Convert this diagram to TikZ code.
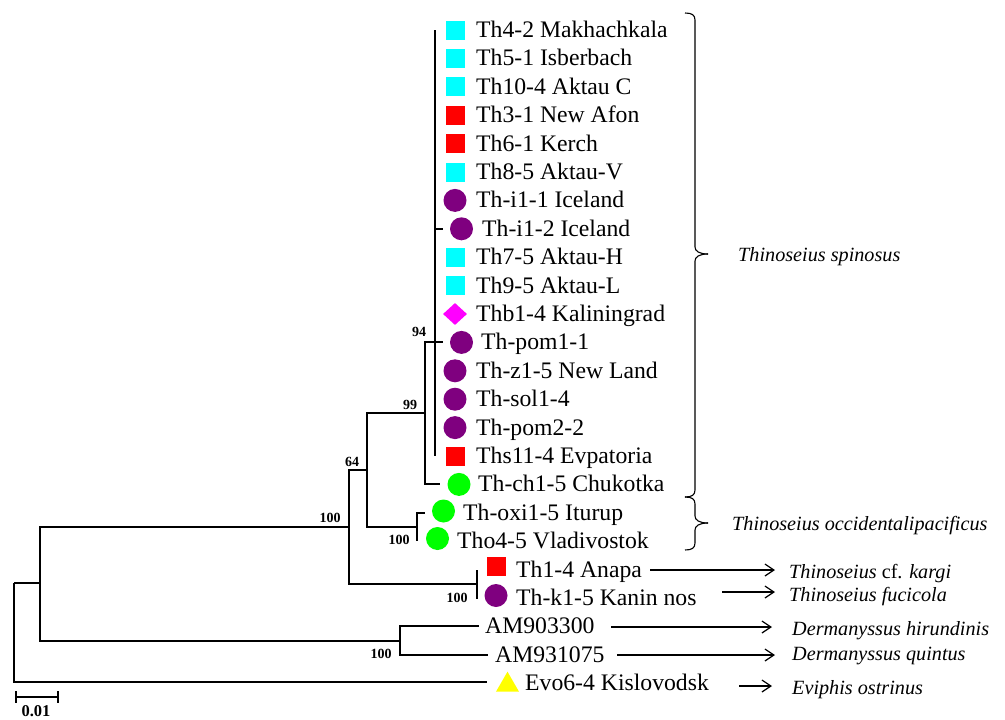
\documentclass[tikz,border=0pt]{standalone}
\usepackage{fontspec}
\setmainfont{Liberation Serif}
\usetikzlibrary{arrows.meta,shapes.geometric}
\definecolor{cyanm}{HTML}{00FFFF}
\definecolor{redm}{HTML}{FF0000}
\definecolor{purplem}{HTML}{7F007F}
\definecolor{magm}{HTML}{FF00FF}
\definecolor{greenm}{HTML}{00FF00}
\definecolor{yellowm}{HTML}{FFFF00}
\begin{document}
\begin{tikzpicture}[x=1pt,y=-1pt,
  br/.style={line width=2pt},
  leaf/.style={anchor=base west, inner sep=0pt, font=\fontsize{23.7}{26}\selectfont},
  sp/.style={anchor=base west, inner sep=0pt, font=\fontsize{20.2}{22}\selectfont\itshape},
  bs/.style={anchor=base, inner sep=0pt, font=\fontsize{14}{16}\selectfont\bfseries},
  sq/.style={rectangle, minimum size=19pt, inner sep=0pt, draw=none},
  dot/.style={circle, minimum size=23pt, inner sep=0pt, draw=none, fill=purplem},
  gdot/.style={circle, minimum size=23pt, inner sep=0pt, draw=none, fill=greenm},
  arr/.style={line width=1.2pt, -{Straight Barb[length=9pt,width=12pt]}},
  brc/.style={line width=1.1pt}]
\useasboundingbox (0,0) rectangle (1005,720);

% ---------- markers and leaf labels ----------
\node[sq,fill=cyanm] (m1) at (455,30) {};      \node[leaf] (t1) at (476,37.5) {Th4-2 Makhachkala};
\node[sq,fill=cyanm] (m2) at (455,58.4) {};    \node[leaf] (t2) at (476,65.9) {Th5-1 Isberbach};
\node[sq,fill=cyanm] (m3) at (455,86.8) {};    \node[leaf] (t3) at (476,94.3) {Th10-4 Aktau C};
\node[sq,fill=redm] (m4) at (455,115.2) {};    \node[leaf] (t4) at (476,122.7) {Th3-1 New Afon};
\node[sq,fill=redm] (m5) at (455,143.6) {};    \node[leaf] (t5) at (476,151.1) {Th6-1 Kerch};
\node[sq,fill=cyanm] (m6) at (455,172) {};     \node[leaf] (t6) at (476,179.5) {Th8-5 Aktau-V};
\node[dot] (m7) at (455,200.4) {};             \node[leaf] (t7) at (476,207.9) {Th-i1-1 Iceland};
\node[dot] (m8) at (461.5,228.8) {};           \node[leaf] (t8) at (482,236.3) {Th-i1-2 Iceland};
\node[sq,fill=cyanm] (m9) at (455,257.2) {};   \node[leaf] (t9) at (476,264.7) {Th7-5 Aktau-H};
\node[sq,fill=cyanm] (m10) at (455,285.6) {};  \node[leaf] (t10) at (476,293.1) {Th9-5 Aktau-L};
\node[diamond, fill=magm, draw=none, inner sep=0pt, minimum width=24pt, minimum height=22pt] (m11) at (455,314) {};
\node[leaf] (t11) at (476,321.5) {Thb1-4 Kaliningrad};
\node[dot] (m12) at (461.5,342.4) {};          \node[leaf] (t12) at (481,349.9) {Th-pom1-1};
\node[dot] (m13) at (455,370.8) {};            \node[leaf] (t13) at (476,378.3) {Th-z1-5 New Land};
\node[dot] (m14) at (455,399.2) {};            \node[leaf] (t14) at (476,406.7) {Th-sol1-4};
\node[dot] (m15) at (455,427.6) {};            \node[leaf] (t15) at (476,435.1) {Th-pom2-2};
\node[sq,fill=redm] (m16) at (455,456) {};     \node[leaf] (t16) at (476,463.5) {Ths11-4 Evpatoria};
\node[gdot] (m17) at (459,484.4) {};           \node[leaf] (t17) at (478,491.9) {Th-ch1-5 Chukotka};
\node[gdot] (m18) at (443.5,511) {};           \node[leaf] (t18) at (463,520.3) {Th-oxi1-5 Iturup};
\node[gdot] (m19) at (437.5,538.5) {};         \node[leaf] (t19) at (457,548.7) {Tho4-5 Vladivostok};
\node[sq,fill=redm] (m20) at (496,566.5) {};   \node[leaf] (t20) at (516,577.1) {Th1-4 Anapa};
\node[dot] (m21) at (496,595.5) {};            \node[leaf] (t21) at (516,605.5) {Th-k1-5 Kanin nos};
\node[leaf] (t22) at (485,633.9) {AM903300};
\node[leaf] (t23) at (495,662.3) {AM931075};
\node[regular polygon, regular polygon sides=3, fill=yellowm, draw=none, inner sep=0pt, minimum size=26.6pt] (m24) at (507.5,685) {};
\node[leaf] (t24) at (525,690.7) {Evo6-4 Kislovodsk};

% ---------- tree coordinates ----------
\coordinate (root) at (14,583);
\coordinate (nA) at (40,583);
\coordinate (n100) at (349,527);
\coordinate (n99) at (367,470);
\coordinate (n94) at (425,413);
\coordinate (nOT) at (417,527);
\coordinate (nAK) at (477,584);
\coordinate (nD) at (400,641);
\coordinate (cEvo) at (487,682);
\coordinate (cPom) at (443,342.4);
\coordinate (cCh) at (440,484.4);
\coordinate (cOx) at (425,512.8);
\coordinate (cTho) at (417,541.2);
\coordinate (cAn) at (477,569.6);
\coordinate (cKa) at (477,599);
\coordinate (cAM1) at (479,626.4);
\coordinate (cAM2) at (488,654.8);
\coordinate (pTop) at (435,30);
\coordinate (pBot) at (435,456);
\coordinate (pI) at (435,228.8);
\coordinate (cI) at (443,228.8);

% ---------- tree branches ----------
\draw[br] (root) |- (nA);
\draw[br] (root) |- (cEvo);
\draw[br] (nA) |- (n100);
\draw[br] (nA) |- (nD);
\draw[br] (n100) |- (n99);
\draw[br] (n100) |- (nAK);
\draw[br] (n99) |- (n94);
\draw[br] (n99) |- (nOT);
\draw[br] (n94) |- (cPom);
\draw[br] (n94) |- (cCh);
\draw[br] (nOT) |- (cOx);
\draw[br] (nOT) -- (cTho);
\draw[br] (nAK) -- (cAn);
\draw[br] (nAK) -- (cKa);
\draw[br] (nD) |- (cAM1);
\draw[br] (nD) |- (cAM2);
\draw[br] (pTop) -- (pBot);
\draw[br] (pI) -- (cI);

% ---------- bootstrap values ----------
\node[bs] (b94) at (419,336) {94};
\node[bs] (b99) at (410,409) {99};
\node[bs] (b64) at (352,466) {64};
\node[bs] (b100a) at (330,522) {100};
\node[bs] (b100b) at (399,544) {100};
\node[bs] (b100c) at (457,602) {100};
\node[bs] (b100d) at (381,658) {100};

% ---------- scale bar ----------
\coordinate (sb1) at (16,697);
\coordinate (sb2) at (58,697);
\draw[br] (sb1) -- (sb2);
\draw[br] (16,691) -- (16,703);
\draw[br] (58,691) -- (58,703);
\node[anchor=base, inner sep=0pt, font=\fontsize{16.5}{18}\selectfont\bfseries] (sbl) at (36,716) {0.01};

% ---------- braces ----------
\draw[brc] (685,13) .. controls (692,13) and (695,15) .. (695,20) -- (695,247)
  .. controls (695,251) and (699,254) .. (708,254);
\draw[brc] (708,254) .. controls (699,254) and (695,257) .. (695,261) -- (695,490)
  .. controls (695,495) and (692,497) .. (685,497);
\draw[brc] (685,497) .. controls (692,497) and (695,499) .. (695,504) -- (695,516)
  .. controls (695,520) and (699,523) .. (708,523);
\draw[brc] (708,523) .. controls (699,523) and (695,526) .. (695,530) -- (695,543)
  .. controls (695,548) and (692,550) .. (685,550);

% ---------- species labels ----------
\node[sp] (s1) at (738,261) {Thinoseius spinosus};
\node[sp] (s2) at (732,530) {Thinoseius occidentalipacificus};
\node[sp] (s3) at (789,578) {Thinoseius {\upshape cf.} kargi};
\node[sp] (s4) at (789,601) {Thinoseius fucicola};
\node[sp] (s5) at (792,635) {Dermanyssus hirundinis};
\node[sp] (s6) at (792,660) {Dermanyssus quintus};
\node[sp] (s7) at (792,694) {Eviphis ostrinus};

% ---------- arrows ----------
\coordinate (a1s) at (650,570);  \coordinate (a1e) at (775,570);
\coordinate (a2s) at (722,592);  \coordinate (a2e) at (775,592);
\coordinate (a3s) at (611,627);  \coordinate (a3e) at (772,627);
\coordinate (a4s) at (617,655);  \coordinate (a4e) at (775,655);
\coordinate (a5s) at (739,686);  \coordinate (a5e) at (772,686);
\draw[arr] (a1s) -- (a1e);
\draw[arr] (a2s) -- (a2e);
\draw[arr] (a3s) -- (a3e);
\draw[arr] (a4s) -- (a4e);
\draw[arr] (a5s) -- (a5e);
\end{tikzpicture}
\end{document}
